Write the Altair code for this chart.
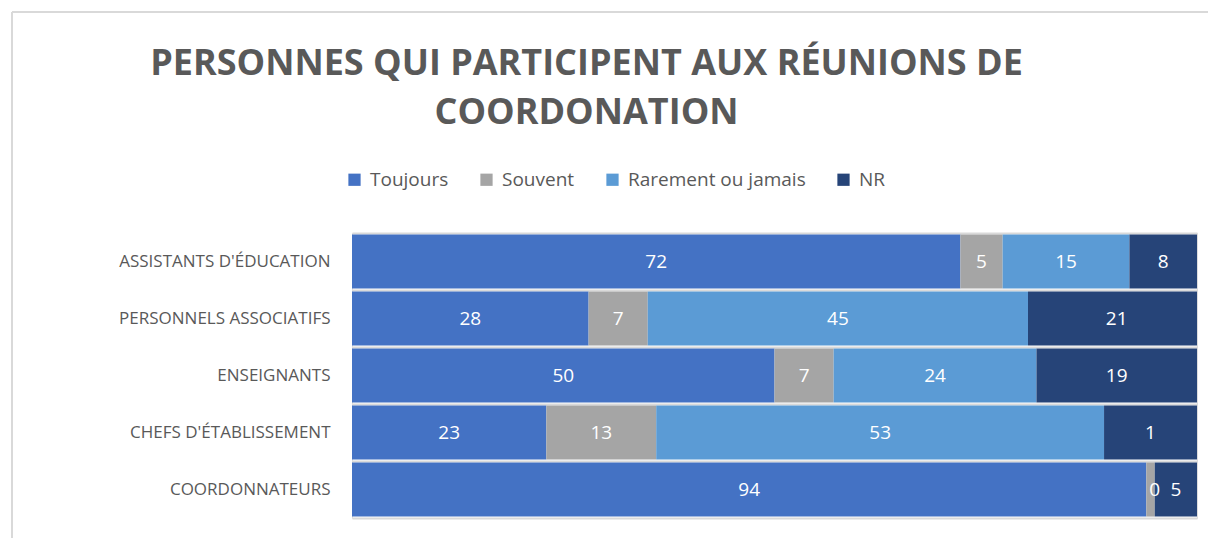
import altair as alt
import pandas as pd

categories = ["ASSISTANTS D'ÉDUCATION", "PERSONNELS ASSOCIATIFS", "ENSEIGNANTS",
              "CHEFS D'ÉTABLISSEMENT", "COORDONNATEURS"]
series = ["Toujours", "Souvent", "Rarement ou jamais", "NR"]
colors = ["#4472C4", "#A5A5A5", "#5B9BD5", "#264478"]

toujours = [72, 28, 50, 23, 94]
souvent = [5, 7, 7, 13, 1]
rarement = [15, 45, 24, 53, 0]
nr = [8, 21, 19, 11, 5]

lbl_toujours = ["72", "28", "50", "23", "94"]
lbl_souvent = ["5", "7", "7", "13", ""]
lbl_rarement = ["15", "45", "24", "53", "0"]
lbl_nr = ["8", "21", "19", "1", "5"]

rows = []
for si, (s, vals, lbls) in enumerate(zip(series, [toujours, souvent, rarement, nr],
                                         [lbl_toujours, lbl_souvent, lbl_rarement, lbl_nr])):
    for c, v, l in zip(categories, vals, lbls):
        rows.append({"cat": c, "serie": s, "value": v, "ord": si, "label": l})
df = pd.DataFrame(rows)

FONT = "Open Sans"
GRAY = "#595959"
FRAME = "#d9d9d9"

base = alt.Chart(df).transform_stack(
    stack="value", as_=["x0", "x1"], groupby=["cat"], sort=[alt.SortField("ord")]
).transform_calculate(mid="(datum.x0 + datum.x1) / 2")

yenc = alt.Y("cat:N", sort=categories,
             scale=alt.Scale(paddingInner=0.05, paddingOuter=0.025),
             axis=alt.Axis(title=None, ticks=False, domain=False, labelPadding=22,
                           labelFont=FONT, labelFontSize=17, labelColor=GRAY, labelLimit=0,
                           grid=True, gridColor=FRAME, gridWidth=2,
                           bandPosition=-0.0263))

bars = base.mark_bar(clip=True).encode(
    x=alt.X("x0:Q", scale=alt.Scale(domain=[0, 100], nice=False),
            axis=alt.Axis(title=None, labels=False, ticks=False, grid=False,
                          domainColor=FRAME, domainWidth=2)),
    x2="x1:Q",
    y=yenc,
    color=alt.Color("serie:N", sort=series,
                    scale=alt.Scale(domain=series, range=colors),
                    legend=alt.Legend(title=None, orient="none", direction="horizontal",
                                      legendX=-7, legendY=-63, symbolType="square",
                                      symbolSize=150, symbolStrokeWidth=0,
                                      labelFont=FONT, labelFontSize=19, labelColor=GRAY,
                                      labelLimit=0, columnPadding=28, labelOffset=6)),
)

texts = base.mark_text(color="white", font=FONT, fontSize=19).encode(
    x="mid:Q",
    y=alt.Y("cat:N", sort=categories),
    text="label:N",
)

frame_src = pd.DataFrame({"k": [0]})
top_line = alt.Chart(frame_src).mark_rule(color=FRAME, strokeWidth=2).encode(
    x=alt.value(-340), x2=alt.value(860), y=alt.value(-221))
left_line = alt.Chart(frame_src).mark_rule(color=FRAME, strokeWidth=2).encode(
    x=alt.value(-340), y=alt.value(-221), y2=alt.value(310))

chart = alt.layer(top_line, left_line, bars, texts).properties(
    width=845, height=285,
    autosize=alt.AutoSizeParams(type="none"),
    padding={"left": 352, "top": 233, "right": 11, "bottom": 20},
    title=alt.TitleParams(
        text=["PERSONNES QUI PARTICIPENT AUX RÉUNIONS DE", "COORDONATION"],
        anchor="middle", frame="group", dx=-188, offset=-121,
        font=FONT, fontSize=36, fontWeight="bold", color=GRAY, lineHeight=49,
    ),
).configure_view(stroke=None).configure(background="white")

chart.save("out.html", embed_options={"renderer": "svg", "actions": False})
